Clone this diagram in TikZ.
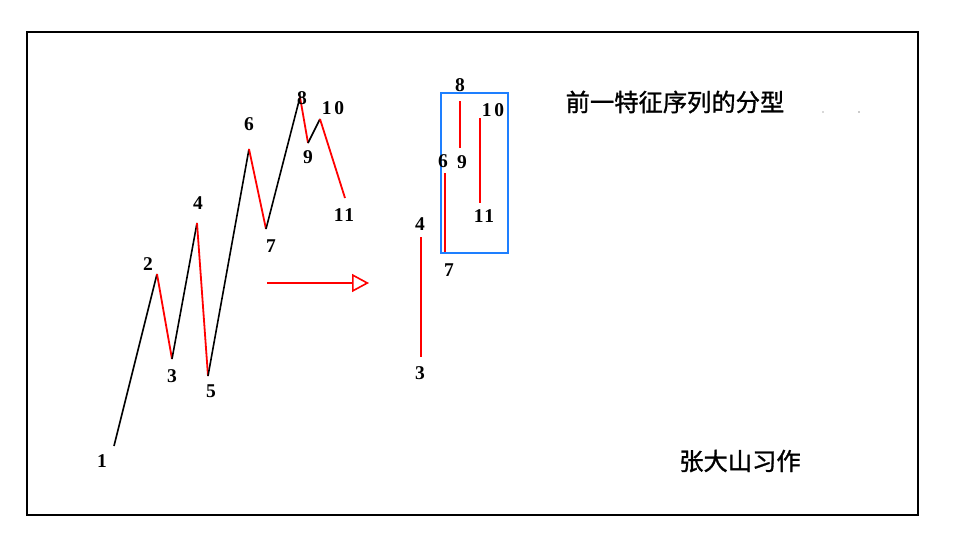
\documentclass[tikz,border=0pt]{standalone}
\usepackage{fontspec}
\setmainfont{Liberation Serif}
\newfontfamily\cjk[AutoFakeBold=1.2]{Noto Sans CJK SC}
\usetikzlibrary{arrows.meta}
\begin{document}
\begin{tikzpicture}[x=1pt,y=-1pt,
  blk/.style={black,line width=1.6pt},
  rd/.style={red,line width=1.8pt},
  num/.style={font=\fontsize{19.5}{19.5}\selectfont\bfseries,inner sep=0pt},
  cn/.style={font=\cjk\fontsize{24.3}{24.3}\selectfont\bfseries,inner sep=0pt}]
\useasboundingbox (0,0) rectangle (962,544);
\fill[white] (0,0) rectangle (962,544);
\draw[line width=1.6pt] (27,32) rectangle (918,515);
% left wave
\coordinate (p1) at (114,446);
\coordinate (p2) at (157,274);
\coordinate (p3) at (172,359);
\coordinate (p4) at (197,223);
\coordinate (p5) at (208,376);
\coordinate (p6) at (249,149);
\coordinate (p7) at (266,229);
\coordinate (p8) at (300,97);
\coordinate (p9) at (308,143);
\coordinate (p10) at (320,119);
\coordinate (p11) at (345,198);
\draw[blk] (p1)--(p2);
\draw[rd] (p2)--(p3);
\draw[blk] (p3)--(p4);
\draw[rd] (p4)--(p5);
\draw[blk] (p5)--(p6);
\draw[rd] (p6)--(p7);
\draw[blk] (p7)--(p8);
\draw[rd] (p8)--(p9);
\draw[blk] (p9)--(p10);
\draw[rd] (p10)--(p11);
\node[num] (l1) at (102,461) {1};
\node[num] (l2) at (148,264) {2};
\node[num] (l3) at (172,376) {3};
\node[num] (l4) at (198,203) {4};
\node[num] (l5) at (211,391) {5};
\node[num] (l6) at (249,124) {6};
\node[num] (l7) at (271,246) {7};
\node[num] (l8) at (302,98) {8};
\node[num] (l9) at (308,157) {9};
\node[num] (l10) at (333,108) {1\hspace{3pt}0};
\node[num] (l11) at (344,215) {1\hspace{1pt}1};
% arrow
\coordinate (a0) at (267,283);
\coordinate (a1) at (369,283);
\draw[red,line width=1.6pt,-{Triangle[open,length=17pt,width=18pt,line width=1.6pt]}] (a0)--(a1);
% right part
\coordinate (q4) at (421,237);
\coordinate (q3) at (421,357);
\coordinate (q6) at (445,173);
\coordinate (q7) at (445,252);
\coordinate (q8) at (460,101);
\coordinate (q9) at (460,148);
\coordinate (q10) at (480,118);
\coordinate (q11) at (480,203);
\draw[rd] (q4)--(q3);
\draw[rd] (q6)--(q7);
\draw[rd] (q8)--(q9);
\draw[rd] (q10)--(q11);
\draw[line width=1.8pt,color={rgb,255:red,30;green,127;blue,255}] (441,93) rectangle (508,253);
\node[num] (r4) at (420,224) {4};
\node[num] (r3) at (420,373) {3};
\node[num] (r6) at (443,161) {6};
\node[num] (r7) at (449,270) {7};
\node[num] (r8) at (460,85) {8};
\node[num] (r9) at (462,162) {9};
\node[num] (r10) at (493,110) {1\hspace{3pt}0};
\node[num] (r11) at (484,216) {1\hspace{1pt}1};
% texts
\node[cn] (title) at (675,102) {前一特征序列的分型};
\node[cn] (author) at (740,461) {张大山习作};
\fill[gray!60] (823,112) circle (0.8);
\fill[gray!80] (859,112) circle (0.9);
\end{tikzpicture}
\end{document}
